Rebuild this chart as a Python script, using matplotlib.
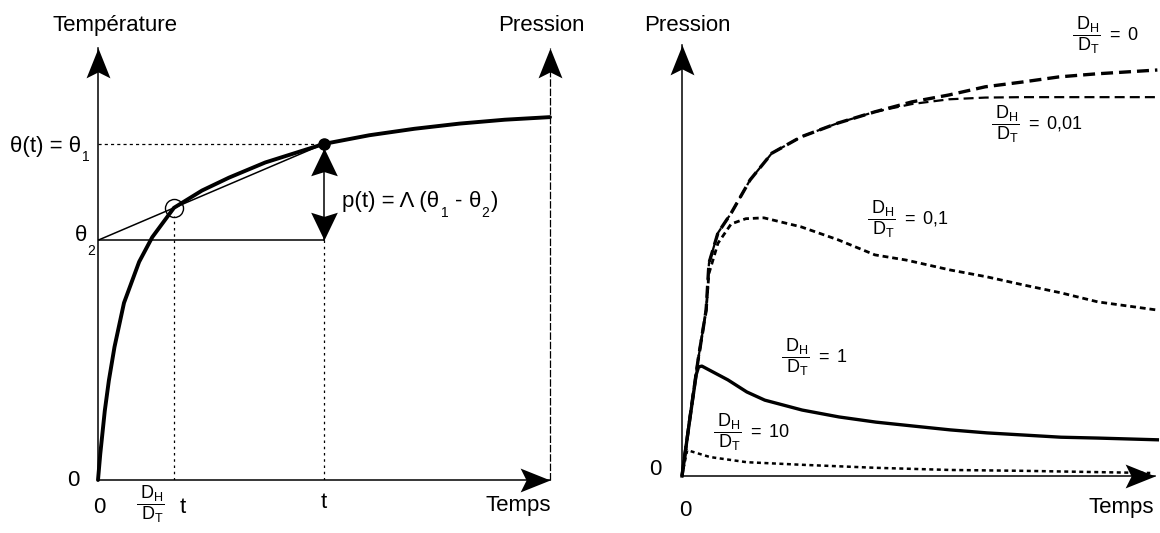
import matplotlib
matplotlib.use("Agg")
import matplotlib.pyplot as plt
from matplotlib.transforms import offset_copy
from matplotlib.path import Path

plt.rcParams['font.family'] = ['Liberation Sans', 'DejaVu Sans']
plt.rcParams['mathtext.fontset'] = 'custom'
plt.rcParams['mathtext.rm'] = 'Liberation Sans'
plt.rcParams['mathtext.it'] = 'Liberation Sans'
plt.rcParams['mathtext.bf'] = 'Liberation Sans:bold'

# ---------------- data ----------------
# Left panel: temperature rise theta(t)
t_left = [0, 0.05, 0.15, 0.24, 0.365, 0.575, 0.91, 1.2, 1.68, 2.3, 2.9, 3.7,
          5.0, 6.0, 7.0, 8.0, 9.0, 10.0]
theta_left = [0, 0.6, 1.6, 2.3, 3.08, 4.1, 5.05, 5.62, 6.30, 6.70, 7.0, 7.35,
              7.78, 7.98, 8.13, 8.25, 8.34, 8.40]
t_point = 5.0          # time t
t_scaled = 1.68        # (D_H / D_T) t
theta1 = 7.78
theta2 = 5.55
theta_circle = 6.30

# Right panel: pressure for several D_H/D_T ratios
t_r0 = [0, 0.19, 0.34, 0.51, 0.57, 0.76, 1.04, 1.44, 1.90, 2.52, 3.30, 4.08,
        4.86, 5.64, 6.41, 7.19, 7.97, 8.75, 10.05]
p_r0 = [0, 1.53, 2.69, 3.85, 4.94, 5.64, 6.10, 6.87, 7.49, 7.87, 8.19, 8.45,
        8.68, 8.84, 9.03, 9.14, 9.26, 9.33, 9.42]

t_r001 = [0, 0.19, 0.34, 0.51, 0.57, 0.76, 1.04, 1.44, 1.90, 2.52, 3.30, 4.08,
          4.86, 5.64, 6.41, 7.19, 7.97, 8.75, 10.05]
p_r001 = [0, 1.53, 2.69, 3.85, 4.94, 5.64, 6.10, 6.87, 7.49, 7.87, 8.19, 8.45,
          8.63, 8.74, 8.78, 8.79, 8.79, 8.79, 8.79]

t_r01 = [0, 0.19, 0.34, 0.51, 0.57, 0.76, 1.04, 1.35, 1.73, 2.52, 3.30, 4.08,
         4.74, 5.67, 6.45, 7.23, 8.01, 8.79, 10.05]
p_r01 = [0, 1.53, 2.69, 3.85, 4.7, 5.4, 5.85, 5.97, 5.99, 5.78, 5.48, 5.13,
         5.01, 4.78, 4.62, 4.43, 4.25, 4.04, 3.85]

t_r1 = [0, 0.15, 0.3, 0.35, 0.42, 0.97, 1.37, 1.75, 2.54, 3.32, 4.10, 4.88,
        5.67, 6.45, 7.23, 8.01, 8.79, 10.05]
p_r1 = [0, 1.2, 2.35, 2.53, 2.55, 2.23, 1.95, 1.76, 1.53, 1.37, 1.25, 1.16,
        1.07, 1.00, 0.95, 0.90, 0.88, 0.84]

t_r10 = [0, 0.11, 0.59, 1.37, 2.54, 4.10, 5.67, 7.23, 8.79, 9.9]
p_r10 = [0, 0.60, 0.44, 0.32, 0.26, 0.19, 0.14, 0.12, 0.09, 0.07]

ratio_labels = ['0', '0{,}01', '0{,}1', '1', '10']
ratio_label_x = [8.25, 6.53, 3.91, 2.09, 0.66]
ratio_label_y = [10.23, 8.17, 5.96, 2.76, 1.02]

# ---------------- figure ----------------
W, H = 1160, 533
fig = plt.figure(figsize=(W / 100, H / 100), dpi=100)
renderer = fig.canvas.get_renderer()


def px_axes(x0, y0, x1, y1):
    return fig.add_axes([x0 / W, 1 - y0 / H, (x1 - x0) / W, (y0 - y1) / H])


FS = 16
FS_SUB = 10
FS_FRAC = 13

# stealth-like arrowhead marker shapes (tip at the marker origin)
_codes = [Path.MOVETO, Path.LINETO, Path.LINETO, Path.LINETO, Path.CLOSEPOLY]


def head_path(direction, half_width, notch=0.8):
    base = [(0, 0), (half_width, -1), (0, -notch), (-half_width, -1), (0, 0)]
    if direction == 'up':
        v = base
    elif direction == 'down':
        v = [(x, -y) for x, y in base]
    else:  # right
        v = [(y, -x) for x, y in base]
    return Path(v, _codes)


AX_HEAD_MS = 43
AX_HEAD_HW = 0.40


def axis_arrow(ax, x0, y0, x1, y1, direction, lw=1.1, ls='-'):
    ax.plot([x0, x1], [y0, y1], color='black', lw=lw, ls=ls, clip_on=False)
    ax.plot([x1], [y1], marker=head_path(direction, AX_HEAD_HW), ms=AX_HEAD_MS,
            color='black', mew=0, ls='none', clip_on=False)


def rich(ax, x, y, pieces):
    """pieces: (text, fontsize, drop_px, gap_px) laid out left to right."""
    dx = 0.0
    for s, size, drop, gap in pieces:
        dx += gap
        tr = offset_copy(ax.transData, fig=fig, x=dx, y=-drop, units='dots')
        t = ax.text(x, y, s, fontsize=size, transform=tr, ha='left',
                    va='baseline')
        dx += t.get_window_extent(renderer).width


# ===== left panel =====
ax = px_axes(98, 480, 550, 48)
ax.set_xlim(0, 10)
ax.set_ylim(0, 10)
ax.axis('off')

axis_arrow(ax, 0, 0, 0, 10, 'up')
axis_arrow(ax, 10, 0, 10, 10, 'up', lw=0.9, ls=(0, (6, 1.5)))
axis_arrow(ax, 0, 0, 10, 0, 'right')

ax.plot(t_left, theta_left, color='black', lw=2.8, solid_capstyle='round',
        solid_joinstyle='round', clip_on=False)
ax.plot([0, t_point], [theta2, theta1], color='black', lw=1.1)
ax.plot([0, t_point], [theta2, theta2], color='black', lw=1.1)
ax.plot([0, t_point], [theta1, theta1], color='black', lw=0.9, ls=(0, (2.5, 2.5)))
ax.plot([t_scaled, t_scaled], [0, theta_circle - 0.2], color='black', lw=0.9,
        ls=(0, (2, 3)))
ax.plot([t_point, t_point], [0, theta2], color='black', lw=0.9, ls=(0, (2, 3)))
# double arrow p(t)
ax.plot([t_point, t_point], [theta2, theta1], color='black', lw=1.1)
ax.plot([t_point], [theta1 - 0.1], marker=head_path('up', 0.48, 0.85), ms=40,
        color='black', mew=0, ls='none')
ax.plot([t_point], [theta2], marker=head_path('down', 0.48, 0.85), ms=40,
        color='black', mew=0, ls='none')
ax.plot([t_point], [theta1], 'o', color='black', ms=8, clip_on=False)
ax.plot([t_scaled], [theta_circle], 'o', mfc='none', mec='black', mew=1.0, ms=13)

ax.text(0.37, 10.4, 'Température', fontsize=FS, ha='center', va='baseline')
ax.text(9.8, 10.4, 'Pression', fontsize=FS, ha='center', va='baseline')
rich(ax, -1.95, 7.59, [('θ(t) = θ', FS, 0, 0), ('1', FS_SUB, 9, 1)])
rich(ax, -0.51, 5.53, [('θ', FS, 0, 0), ('2', FS_SUB, 14, 0)])
rich(ax, 5.40, 6.32, [('p(t) = Λ (θ', FS, 0, 0), ('1', FS_SUB, 10, 2),
                      ('-', FS, 0, 6), ('θ', FS, 0, 7), ('2', FS_SUB, 10, 0),
                      (')', FS, 0, 1)])
ax.text(-0.54, 0.0, '0', fontsize=FS, ha='center', va='center')
ax.text(0.03, -0.63, '0', fontsize=FS, ha='center', va='center')
ax.text(0.84, -0.56, r'$\dfrac{\;D_H}{\;D_T}$', fontsize=FS_FRAC, ha='left',
        va='center')
ax.text(1.88, -0.63, 't', fontsize=FS, ha='center', va='center')
ax.text(t_point, -0.53, 't', fontsize=FS, ha='center', va='center')
ax.text(10.02, -0.72, 'Temps', fontsize=FS, ha='right', va='baseline')

# ===== right panel =====
bx = px_axes(682, 476, 1155, 45)
bx.set_xlim(0, 10)
bx.set_ylim(0, 10)
bx.axis('off')

axis_arrow(bx, 0, 0, 0, 10, 'up')
axis_arrow(bx, 0, 0, 10, 0, 'right')

bx.plot(t_r10, p_r10, color='black', lw=1.8, ls=(0, (1.6, 1.4)), clip_on=False)
bx.plot(t_r1, p_r1, color='black', lw=2.4, solid_joinstyle='round', clip_on=False)
bx.plot(t_r01, p_r01, color='black', lw=2.0, ls=(0, (2.1, 1.4)), clip_on=False)
bx.plot(t_r001, p_r001, color='black', lw=1.6, ls=(0, (4.5, 2.3)), clip_on=False)
bx.plot(t_r0, p_r0, color='black', lw=2.4, ls=(0, (3.6, 1.8)), clip_on=False)

for lab, lx, ly in zip(ratio_labels, ratio_label_x, ratio_label_y):
    bx.text(lx, ly, r'$\dfrac{\;D_H}{\;D_T}\ =\ \mathrm{' + lab + '}$',
            fontsize=FS_FRAC, ha='left', va='center')

bx.text(0.11, 10.32, 'Pression', fontsize=FS, ha='center', va='baseline')
bx.text(-0.56, 0.14, '0', fontsize=FS, ha='center', va='center')
bx.text(0.07, -0.79, '0', fontsize=FS, ha='center', va='center')
bx.text(9.98, -0.86, 'Temps', fontsize=FS, ha='right', va='baseline')

fig.savefig('out.png', dpi=100)
